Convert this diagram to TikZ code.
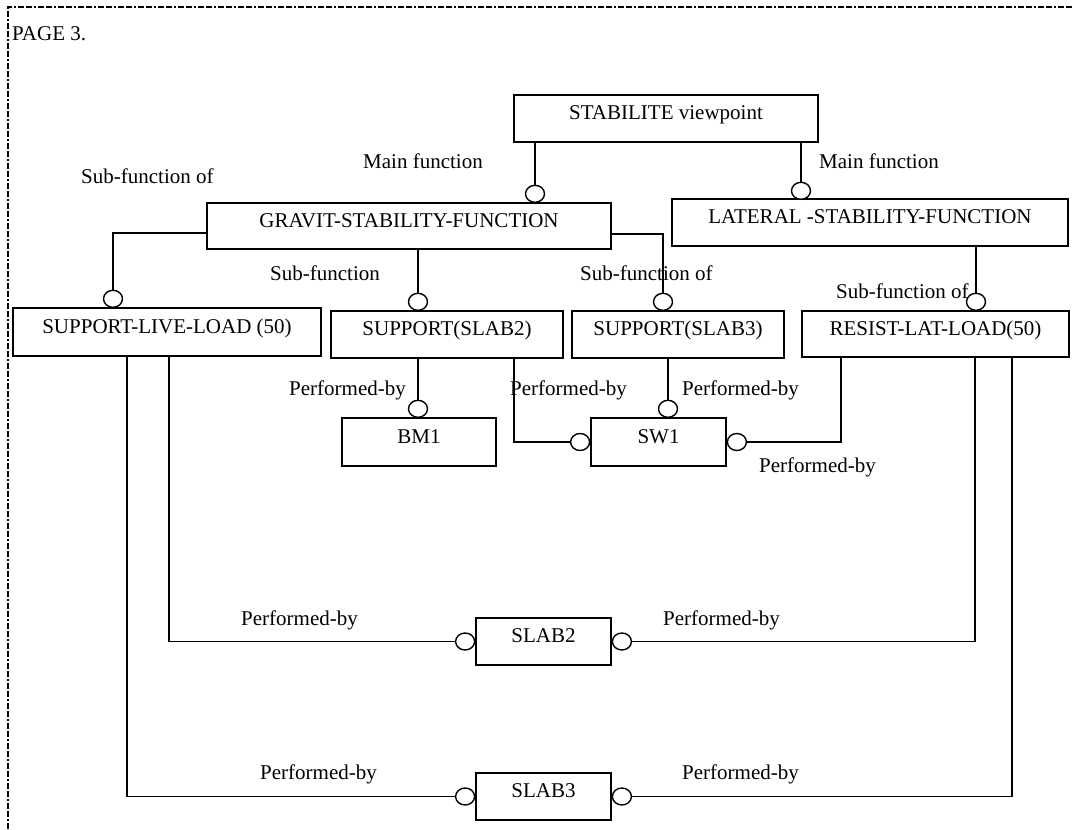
\documentclass[tikz,border=0pt]{standalone}
\usepackage{fontspec}
\setmainfont{Liberation Serif}
\usetikzlibrary{shapes.geometric}

\tikzset{
  box/.style={draw, line width=1.4pt, inner sep=0pt, text height=14pt, text depth=12pt},
  port/.style={draw, line width=1.4pt, ellipse, fill=white, inner sep=0pt, minimum width=19pt, minimum height=17pt},
  lbl/.style={anchor=base west, inner sep=0pt},
  link/.style={line width=1.4pt},
  frame/.style={line width=2pt, dash pattern=on 6pt off 2pt on 6pt off 2pt on 2pt off 2pt}
}

\begin{document}
\begin{tikzpicture}[x=1pt, y=-1pt, font=\fontsize{21}{25}\selectfont]
\useasboundingbox (0,0) rectangle (1072,830);
\draw[frame] (1072,7) -- (8,7) -- (8,830);
\node[lbl] (page) at (12,40) {PAGE 3.};

% boxes
\node[box, minimum width=304pt, minimum height=47pt] (stab) at (666,118.5) {STABILITE viewpoint};
\node[box, minimum width=404pt, minimum height=46pt] (gravit) at (409,226) {GRAVIT-STABILITY-FUNCTION};
\node[box, minimum width=396pt, minimum height=47pt] (lat) at (870,222.5) {LATERAL -STABILITY-FUNCTION};
\node[box, minimum width=308pt, minimum height=48pt] (sll) at (167,332) {SUPPORT-LIVE-LOAD (50)};
\node[box, minimum width=232pt, minimum height=47pt] (ss2) at (447,334.5) {SUPPORT(SLAB2)};
\node[box, minimum width=212pt, minimum height=47pt] (ss3) at (678,334.5) {SUPPORT(SLAB3)};
\node[box, minimum width=267pt, minimum height=46pt] (resist) at (935.5,334) {RESIST-LAT-LOAD(50)};
\node[box, minimum width=154pt, minimum height=48pt] (bm1) at (419,442) {BM1};
\node[box, minimum width=135pt, minimum height=48pt] (sw1) at (658.5,442) {SW1};
\node[box, minimum width=135pt, minimum height=47pt] (slab2) at (543.5,641.5) {SLAB2};
\node[box, minimum width=135pt, minimum height=47pt] (slab3) at (543.5,796.5) {SLAB3};

% ports
\node[port, anchor=south] (pgrav) at (535,203) {};
\node[port, anchor=south] (plat) at (801,200) {};
\node[port, anchor=south] (psll) at (113,308) {};
\node[port, anchor=south] (pss2) at (418,311) {};
\node[port, anchor=south] (pss3) at (663,311) {};
\node[port, anchor=south] (pres) at (976,311) {};
\node[port, anchor=south] (pbm) at (418,418) {};
\node[port, anchor=south] (psw) at (668,418) {};
\node[port, anchor=east] (pswl) at (sw1.west) {};
\node[port, anchor=west] (pswr) at (sw1.east) {};
\node[port, anchor=east] (ps2l) at (slab2.west) {};
\node[port, anchor=west] (ps2r) at (slab2.east) {};
\node[port, anchor=east] (ps3l) at (slab3.west) {};
\node[port, anchor=west] (ps3r) at (slab3.east) {};

% links
\draw[link] (stab.south -| pgrav) -- (pgrav.north);
\draw[link] (stab.south -| plat) -- (plat.north);
\draw[link] ([yshift=-7pt]gravit.west) -| (psll.north);
\draw[link] (gravit.south -| pss2) -- (pss2.north);
\draw[link] ([yshift=-8pt]gravit.east) -| (pss3.north);
\draw[link] (lat.south -| pres) -- (pres.north);
\draw[link] (ss2.south -| pbm) -- (pbm.north);
\draw[link] (pswl.west) -| ([xshift=67pt]ss2.south);
\draw[link] (ss3.south -| psw) -- (psw.north);
\draw[link] (pswr.east) -| ([xshift=-94.5pt]resist.south);
\draw[link] (ps2l.west) -| ([xshift=2pt]sll.south);
\draw[link] (ps3l.west) -| ([xshift=-40pt]sll.south);
\draw[link] (ps2r.east) -| ([xshift=39.5pt]resist.south);
\draw[link] (ps3r.east) -| ([xshift=76.5pt]resist.south);

% labels
\node[lbl] (l1) at (81,183) {Sub-function of};
\node[lbl] (l2) at (363,168) {Main function};
\node[lbl] (l3) at (819,168) {Main function};
\node[lbl] (l4) at (270,280) {Sub-function};
\node[lbl] (l5) at (580,280) {Sub-function of};
\node[lbl] (l6) at (836,298) {Sub-function of};
\node[lbl] (l7) at (289,395) {Performed-by};
\node[lbl] (l8) at (510,395) {Performed-by};
\node[lbl] (l9) at (682,395) {Performed-by};
\node[lbl] (l10) at (759,472) {Performed-by};
\node[lbl] (l11) at (241,625) {Performed-by};
\node[lbl] (l12) at (663,625) {Performed-by};
\node[lbl] (l13) at (260,779) {Performed-by};
\node[lbl] (l14) at (682,779) {Performed-by};
\end{tikzpicture}
\end{document}
